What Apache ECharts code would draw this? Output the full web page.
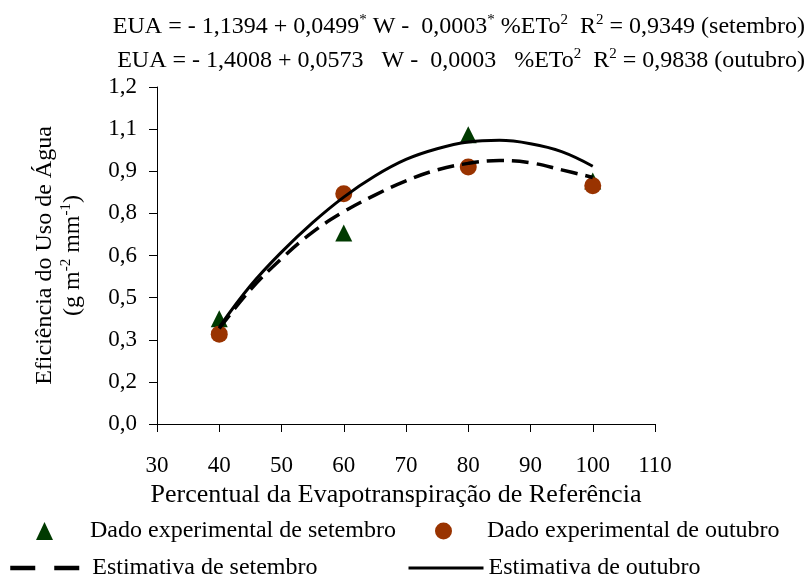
<!DOCTYPE html>
<html>
<head>
<meta charset="utf-8">
<script src="https://cdn.jsdelivr.net/npm/echarts@6/dist/echarts.min.js"></script>
<style>
  html, body { margin: 0; padding: 0; background: #fff; }
  #chart { width: 805px; height: 576px; }
</style>
</head>
<body>
<div id="chart"></div>
<script>
// Water-use efficiency vs. percentage of reference evapotranspiration
const xTicks = [30, 40, 50, 60, 70, 80, 90, 100, 110];
const yTickLabels = ['0,0', '0,2', '0,3', '0,5', '0,6', '0,8', '0,9', '1,1', '1,2'];

// Measured points
const waterLevels = [40, 60, 80, 100];
const septemberObs = [0.375, 0.68, 1.03, 0.865];
const octoberObs = [0.32, 0.82, 0.915, 0.848];

// Fitted curves (quadratic trend lines)
const curveW = [40, 45, 50, 55, 60, 65, 70, 75, 80, 85, 90, 95, 100];
const septemberFit = [0.34, 0.478, 0.589, 0.683, 0.756, 0.815, 0.866, 0.905, 0.928, 0.938, 0.93, 0.905, 0.878];
const octoberFit = [0.345, 0.492, 0.612, 0.717, 0.808, 0.883, 0.942, 0.980, 1.004, 1.010, 0.998, 0.970, 0.918];

const FONT = '"Liberation Serif", "Times New Roman", serif';
const FS = 24;
const pair = (xs, ys) => xs.map((x, i) => [x, ys[i]]);

const chart = echarts.init(document.getElementById('chart'), null, { renderer: 'canvas' });

const txtStyle = { fontFamily: FONT, fontSize: FS, fontWeight: 'normal', color: '#000', lineHeight: 28 };
const supStyle = { fontFamily: FONT, fontSize: 15, fontWeight: 'normal', color: '#000', verticalAlign: 'top', lineHeight: 28 };

const legendText = (padLeft) => ({ fontFamily: FONT, fontSize: FS, color: '#000', padding: [0, 0, 0, padLeft] });

const legendBase = {
  orient: 'horizontal',
  itemGap: 0,
  padding: 0,
  selectedMode: false
};

chart.setOption({
  animation: false,
  backgroundColor: '#fff',
  title: [
    {
      right: 0, top: 13,
      text: '{n|EUA = - 1,1394 + 0,0499}{s|*}{n| W -  0,0003}{s|*}{n| %ETo}{s|2}{n|  R}{s|2}{n| = 0,9349 (setembro)}',
      textStyle: { fontWeight: 'normal', rich: { n: txtStyle, s: supStyle } },
      padding: 0
    },
    {
      right: 0, top: 47,
      text: '{n|EUA = - 1,4008 + 0,0573   W -  0,0003   %ETo}{s|2}{n|  R}{s|2}{n| = 0,9838 (outubro)}',
      textStyle: { fontWeight: 'normal', rich: { n: txtStyle, s: supStyle } },
      padding: 0
    }
  ],
  legend: [
    Object.assign({}, legendBase, {
      left: 36, top: 519, itemWidth: 17, itemHeight: 18,
      textStyle: legendText(32),
      data: [{ name: 'Dado experimental de setembro', icon: 'triangle' }]
    }),
    Object.assign({}, legendBase, {
      left: 435, top: 519, itemWidth: 17, itemHeight: 17,
      textStyle: legendText(30),
      data: [{ name: 'Dado experimental de outubro', icon: 'circle' }]
    }),
    Object.assign({}, legendBase, {
      left: 8, top: 556, itemWidth: 72, itemHeight: 18,
      textStyle: legendText(5),
      itemStyle: { color: 'rgba(0,0,0,0)', borderWidth: 0 },
      lineStyle: { color: '#000', width: 4.5, type: [25, 19] },
      data: ['Estimativa de setembro']
    }),
    Object.assign({}, legendBase, {
      left: 407, top: 556, itemWidth: 75, itemHeight: 18,
      textStyle: legendText(0),
      itemStyle: { color: 'rgba(0,0,0,0)', borderWidth: 0 },
      lineStyle: { color: '#000', width: 3 },
      data: ['Estimativa de outubro']
    })
  ],
  grid: { left: 157, right: 150, top: 87, bottom: 152, containLabel: false },
  xAxis: {
    type: 'value',
    min: xTicks[0], max: xTicks[xTicks.length - 1], interval: 10,
    name: 'Percentual da Evapotranspiração de Referência',
    nameLocation: 'middle', nameGap: 58,
    nameTextStyle: { fontFamily: FONT, fontSize: 26, color: '#000', padding: [0, 20, 0, 0] },
    axisLine: { lineStyle: { color: '#000', width: 1 } },
    axisTick: { show: true, inside: false, length: 8, lineStyle: { color: '#000' } },
    axisLabel: { fontFamily: FONT, fontSize: 23, color: '#000', margin: 30 },
    splitLine: { show: false }
  },
  yAxis: {
    type: 'value',
    min: 0, max: 1.2, interval: 0.15,
    name: '{a|Eficiência do Uso de Água}\n{b|(g m}{s|-2}{b| mm}{s|-1}{b|)}',
    nameLocation: 'middle', nameRotate: 90, nameGap: 70,
    nameTextStyle: {
      rich: {
        a: { fontFamily: FONT, fontSize: FS, color: '#000', lineHeight: 28 },
        b: { fontFamily: FONT, fontSize: FS, color: '#000', lineHeight: 28 },
        s: { fontFamily: FONT, fontSize: 15, color: '#000', lineHeight: 28, verticalAlign: 'top' }
      }
    },
    axisLine: { show: true, lineStyle: { color: '#000', width: 1 } },
    axisTick: { show: true, inside: false, length: 8, lineStyle: { color: '#000' } },
    axisLabel: {
      fontFamily: FONT, fontSize: 23, color: '#000', margin: 20,
      formatter: v => yTickLabels[Math.round(v / 0.15)]
    },
    splitLine: { show: false }
  },
  series: [
    {
      name: 'Dado experimental de setembro',
      type: 'scatter',
      symbol: 'triangle', symbolSize: 17,
      itemStyle: { color: '#003a00', opacity: 1 },
      data: pair(waterLevels, septemberObs),
      z: 2
    },
    {
      name: 'Dado experimental de outubro',
      type: 'scatter',
      symbol: 'circle', symbolSize: 17,
      itemStyle: { color: '#993300', opacity: 1 },
      data: pair(waterLevels, octoberObs),
      z: 3
    },
    {
      name: 'Estimativa de setembro',
      type: 'line',
      smooth: 0.4,
      showSymbol: false, symbol: 'none',
      itemStyle: { color: '#000' },
      lineStyle: { color: '#000', width: 3.5, type: [17, 8] },
      data: pair(curveW, septemberFit),
      z: 4
    },
    {
      name: 'Estimativa de outubro',
      type: 'line',
      smooth: 0.4,
      showSymbol: false, symbol: 'none',
      itemStyle: { color: '#000' },
      lineStyle: { color: '#000', width: 3 },
      data: pair(curveW, octoberFit),
      z: 5
    }
  ]
});
</script>
</body>
</html>
